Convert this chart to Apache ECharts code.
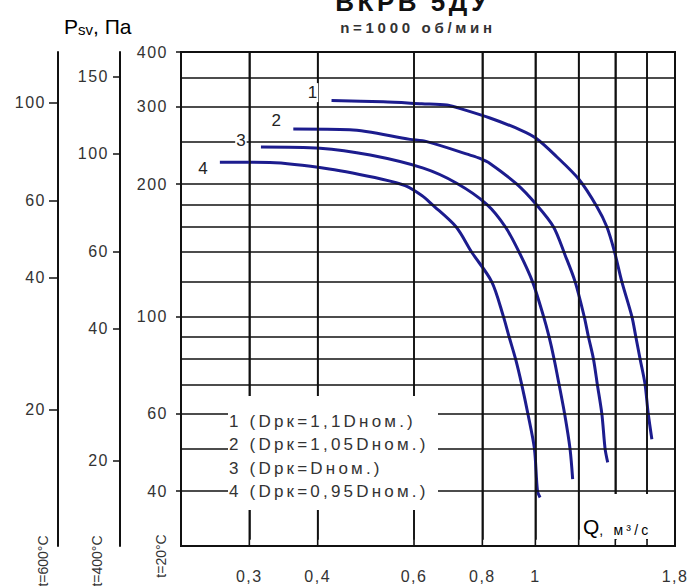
<!DOCTYPE html>
<html><head><meta charset="utf-8">
<script src="https://cdn.jsdelivr.net/npm/echarts@6/dist/echarts.min.js"></script>
<style>
html,body{margin:0;padding:0;background:#fff}
#c{width:695px;height:586px}
svg text[style*="Arial"]{letter-spacing:1.5px}
svg text[style*="Helvetica"]{letter-spacing:3.5px}
svg text[style*="Narrow"]{letter-spacing:3.2px}
svg text[style*="Nimbus"]{letter-spacing:3.7px}
</style></head><body><div id="c"></div>
<script>
// ---- data ----
const qGrid = [0.3, 0.4, 0.6, 0.8, 1, 1.2, 1.4, 1.6, 1.8];
const qLabels = [0.3, 0.4, 0.6, 0.8, 1, 1.8];
const pGrid = [40, 50, 60, 70, 80, 90, 100, 120, 140, 160, 180, 200, 250, 300, 350, 400];
const pLabels20 = [40, 60, 100, 200, 300, 400];
const pLabels400 = [20, 40, 60, 100, 150];
const pLabels600 = [20, 40, 60, 100];
const curveNames = ['1', '2', '3', '4'];
const legendLabels = ['1 (Dрк=1,1Dном.)', '2 (Dрк=1,05Dном.)', '3 (Dрк=Dном.)', '4 (Dрк=0,95Dном.)'];
const curve1 = [[0.424,310],[0.527,308],[0.62,305],[0.689,303],[0.718,299],[0.826,283],[0.938,266],[1.003,254.5],[1.094,231],[1.202,205],[1.295,178],[1.351,160],[1.394,141],[1.439,120],[1.501,100],[1.526,90],[1.554,80],[1.587,70],[1.607,60.5],[1.633,52.5]];
const curve2 = [[0.361,267],[0.458,266],[0.59,253],[0.633,250],[0.76,233],[0.792,229],[0.826,223],[0.925,200],[1.003,180],[1.079,160],[1.133,138],[1.182,120],[1.228,100],[1.25,90],[1.277,80],[1.298,70],[1.323,60],[1.341,50],[1.356,46.5]];
const curve3 = [[0.315,243],[0.404,241.5],[0.499,233],[0.624,217.5],[0.718,201],[0.815,180],[0.881,160],[0.934,140],[0.988,120],[1.035,100],[1.059,90],[1.082,80],[1.105,70],[1.131,60],[1.157,50],[1.17,42.6]];
const curve4 = [[0.265,224.5],[0.327,224],[0.42,216.5],[0.527,205],[0.578,198.5],[0.62,188.5],[0.647,180],[0.716,160],[0.765,140],[0.832,120],[0.874,100],[0.895,90],[0.92,80],[0.944,70],[0.969,60],[0.996,50],[1.009,40],[1.02,38.7]];
const qRange = [0.225, 1.8];
const p20Range = [30, 400];
const p400Range = [12.8, 170.6];
const p600Range = [9.8, 130.6];

// ---- chart ----
const curves = [curve1, curve2, curve3, curve4];
const labelOffsets = [[-19, -8], [-17, -9], [-20, -7], [-17, 6]];
const ink = '#111';
const txt = '#333';
const fmtComma = v => String(v).replace('.', ',');

function sideAxis(range, labels, offset, tickLen, margin) {
  return {
    type: 'log', min: range[0], max: range[1], position: 'left', offset: offset,
    axisLine: {show: true, onZero: false, lineStyle: {color: ink, width: 2}},
    axisTick: {show: true, length: tickLen, customValues: labels, lineStyle: {color: ink, width: 1.5}},
    axisLabel: {show: true, customValues: labels, margin: margin, color: txt, fontSize: 16, fontFamily: 'Arial'},
    splitLine: {show: false}
  };
}

const hLines = {
  type: 'line', data: [],
  markLine: {
    silent: true, symbol: 'none', label: {show: false}, animation: false,
    lineStyle: {color: ink, width: 1.6, type: 'solid'},
    data: pGrid.map(v => [{coord: [qRange[0], v]}, {coord: [qRange[1], v]}])
  }
};
const vMarks = {
  type: 'line', data: [],
  markLine: {
    silent: true, symbol: 'none', label: {show: false}, animation: false,
    lineStyle: {color: ink, width: 1.6, type: 'solid'},
    data: qGrid.map(v => [{coord: [v, 31]}, {coord: [v, 399]}])
  }
};
const vLines = qGrid.map(v => ({
  type: 'line', data: [[v, p20Range[0]], [v, p20Range[1]]], symbol: 'none',
  lineStyle: {color: ink, width: 1.6}
}));

const chart = echarts.init(document.getElementById('c'), null, {renderer: 'svg'});
chart.setOption({
  animation: false,
  grid: {left: 181, top: 52, right: 20, bottom: 40, show: true, borderColor: ink, borderWidth: 2, backgroundColor: 'transparent'},
  xAxis: {
    type: 'log', min: qRange[0], max: qRange[1],
    axisLine: {show: true, lineStyle: {color: ink, width: 2}},
    axisTick: {show: false},
    axisLabel: {show: true, customValues: qLabels, margin: 22, color: txt, fontSize: 16, fontFamily: 'Arial', formatter: fmtComma},
    splitLine: {show: false}
  },
  yAxis: [
    sideAxis(p20Range, pLabels20, 0, 5, 13),
    sideAxis(p400Range, pLabels400, 61, 7, 11),
    sideAxis(p600Range, pLabels600, 123, 9, 12)
  ],
  series: [hLines, vMarks].concat(vLines).concat(curves.map((c, i) => ({
    type: 'line', name: curveNames[i], z: 4, symbol: 'none', smooth: 0.3,
    lineStyle: {color: '#1c1c8e', width: 3},
    itemStyle: {color: '#1c1c8e'},
    data: c,
    markPoint: {
      symbol: 'circle', symbolSize: 2, silent: true, animation: false,
      itemStyle: {color: 'rgba(0,0,0,0)'},
      label: {show: true, position: 'inside', offset: labelOffsets[i], formatter: curveNames[i],
        color: '#222', fontSize: 17, fontFamily: 'Liberation Sans', backgroundColor: '#fff', padding: [1, 1]},
      data: [{coord: c[0]}]
    }
  }))),
  graphic: [
    {type: 'text', x: 413, y: 2, z: 100, style: {text: 'ВКРВ 5ДУ', align: 'center', verticalAlign: 'middle', fontSize: 26, fontWeight: 'bold', fontFamily: 'Helvetica', fill: '#111'}},
    {type: 'text', x: 418, y: 27, z: 100, style: {text: 'n=1000 об/мин', align: 'center', verticalAlign: 'middle', fontSize: 15, fontWeight: 'bold', fontFamily: 'Nimbus Sans Narrow, Liberation Sans Narrow, sans-serif', fill: '#333'}},
    {type: 'text', x: 64, y: 26, z: 100, style: {
      text: '{a|P}{b|sv}{a|, Па}', align: 'left', verticalAlign: 'middle',
      rich: {a: {fontSize: 21, fontFamily: 'Liberation Sans', color: '#333', lineHeight: 22, verticalAlign: 'bottom'},
             b: {fontSize: 15, fontFamily: 'Liberation Sans', color: '#333', lineHeight: 22, verticalAlign: 'bottom'}}}},
    {type: 'text', x: 43, y: 561, rotation: Math.PI / 2, z: 100, style: {text: 't=600°C', align: 'center', verticalAlign: 'middle', fontSize: 14, fontFamily: 'Liberation Sans', fill: '#333'}},
    {type: 'text', x: 97, y: 561, rotation: Math.PI / 2, z: 100, style: {text: 't=400°C', align: 'center', verticalAlign: 'middle', fontSize: 14, fontFamily: 'Liberation Sans', fill: '#333'}},
    {type: 'text', x: 161, y: 556, rotation: Math.PI / 2, z: 100, style: {text: 't=20°C', align: 'center', verticalAlign: 'middle', fontSize: 14, fontFamily: 'Liberation Sans', fill: '#333'}},
    {type: 'rect', x: 228, y: 396, z: 100, shape: {width: 210, height: 114}, style: {fill: '#fff'}},
  ].concat(legendLabels.map((t, i) => ({
    type: 'text', x: 229, y: [421, 444, 468, 491][i], z: 101,
    style: {text: t, align: 'left', verticalAlign: 'middle', fontSize: 17, fontFamily: 'Liberation Sans Narrow, sans-serif', fill: '#333'}
  }))).concat([
    {type: 'rect', x: 581, y: 494, z: 100, shape: {width: 91, height: 45}, style: {fill: '#fff'}},
    {type: 'text', x: 583, y: 526, z: 101, style: {
      text: '{q|Q}{u|, м³/с}', align: 'left', verticalAlign: 'middle',
      rich: {q: {fontSize: 21, fontFamily: 'Liberation Sans', color: '#333', lineHeight: 22, verticalAlign: 'bottom'},
             u: {fontSize: 14, fontFamily: 'Liberation Sans Narrow, sans-serif', color: '#333', lineHeight: 22, verticalAlign: 'bottom'}}}}
  ])
});
</script></body></html>
